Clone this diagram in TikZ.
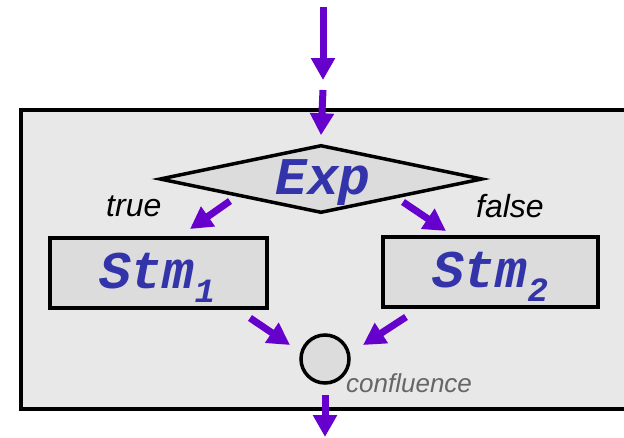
\documentclass[tikz,border=0pt]{standalone}
\usepackage{fontspec}
\setmainfont{Liberation Sans}
\newfontfamily\courfont{Liberation Mono}
\usetikzlibrary{arrows.meta,shapes.geometric}
\definecolor{flowpurple}{HTML}{6600CC}
\definecolor{codeblue}{HTML}{3333AA}
\definecolor{boxgray}{HTML}{E8E8E8}
\definecolor{shapegray}{HTML}{DCDCDC}
\definecolor{notegray}{HTML}{666666}
\begin{document}
\begin{tikzpicture}[x=1pt,y=-1pt,
  flow/.style={color=flowpurple, line width=7pt, -{Triangle[width=23pt,length=22pt]}},
  shapebox/.style={draw=black, line width=3.5pt, fill=shapegray, inner sep=0pt},
  code/.style={text=codeblue, font=\courfont\bfseries\itshape\fontsize{53}{53}\selectfont, inner sep=0pt, anchor=base},
  branch/.style={font=\itshape\fontsize{32}{32}\selectfont, inner sep=0pt, anchor=base west}]
\useasboundingbox (0,0) rectangle (624,437);
\fill[white] (0,0) rectangle (624,437);
\draw[line width=4pt, fill=boxgray] (21,110) rectangle (660,409);
% shapes
\node[shapebox, diamond, minimum width=323pt, minimum height=68pt] (d) at (321,179) {};
\node[shapebox, rectangle, minimum width=217pt, minimum height=70pt] (s1) at (158.5,273) {};
\node[shapebox, rectangle, minimum width=215pt, minimum height=70pt] (s2) at (490.5,272) {};
\node[shapebox, circle, minimum size=48pt] (c) at (325,359) {};
% texts
\node[code] (exp) at (323,194) {Exp};
\node[code] (s1t) at (157,288) {Stm\raisebox{-14pt}{\fontsize{34}{34}\selectfont 1}};
\node[code] (s2t) at (490,287) {Stm\raisebox{-14pt}{\fontsize{34}{34}\selectfont 2}};
\node[branch] (tr) at (106,216) {true};
\node[branch] (fa) at (476,217) {false};
\node[font=\itshape\fontsize{26}{26}\selectfont, text=notegray, inner sep=0pt, anchor=base west] (cf) at (346,392) {confluence};
% connector ends
\coordinate (in0) at (323,7);
\coordinate (in1) at (323,80);
\coordinate (in2) at (323,90);
\coordinate (ts) at (230,201);
\coordinate (te) at (190,229);
\coordinate (fs) at (403,202);
\coordinate (fe) at (446,231);
\coordinate (m1s) at (250,318);
\coordinate (m1e) at (290,345);
\coordinate (m2s) at (406,317);
\coordinate (m2e) at (363,345);
\coordinate (out) at (325,437);
% connectors
\draw[flow] (in0) -- (in1);
\draw[flow] (in2) -- ([yshift=8pt]d.north);
\draw[flow] (ts) -- (te);
\draw[flow] (fs) -- (fe);
\draw[flow] (m1s) -- (m1e);
\draw[flow] (m2s) -- (m2e);
\draw[flow] ([yshift=-10pt]c.south) -- (out);
\end{tikzpicture}
\end{document}
